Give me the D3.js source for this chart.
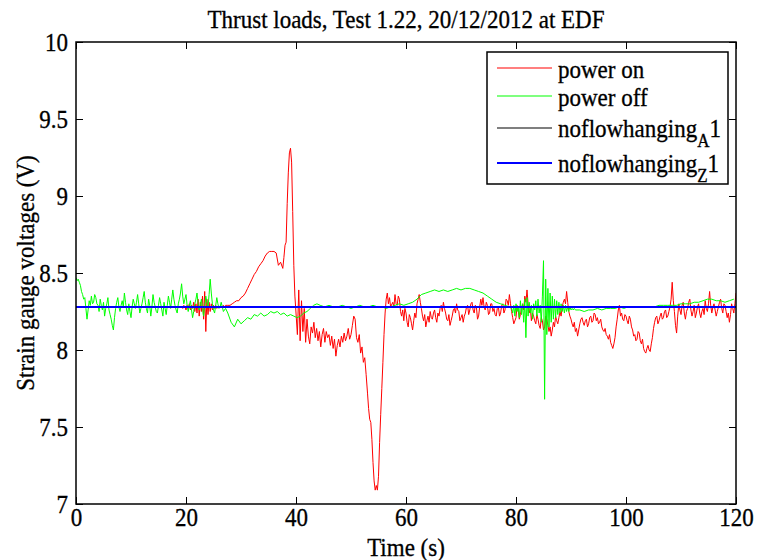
<!DOCTYPE html>
<html><head><meta charset="utf-8">
<script src="https://cdn.jsdelivr.net/npm/d3@7/dist/d3.min.js"></script>
<style>
body{margin:0;background:#fff}svg{display:block}
.mt{transform-box:fill-box;transform-origin:50% 50%;transform:scaleY(1.1)}
</style>
</head><body><svg id="c" width="758" height="560"></svg>
<script>
// ---------- data ----------
const titleText = "Thrust loads, Test 1.22, 20/12/2012 at EDF";
const xLabel = "Time (s)";
const yLabel = "Strain gauge voltages (V)";
const xDomain = [0, 120];
const yDomain = [7, 10];
const xTicks = [0, 20, 40, 60, 80, 100, 120];
const yTicks = [7, 7.5, 8, 8.5, 9, 9.5, 10];
const yTickLabels = ["7", "7.5", "8", "8.5", "9", "9.5", "10"];
const seriesNames = ["power on", "power off", "noflowhanging", "noflowhanging"];
const seriesSubs = ["", "", "A", "Z"];
const seriesColors = ["#ff0000", "#00ff00", "#000000", "#0000ff"];

// reference levels (constant lines) over the full time span
const refTimes = [0, 120];
const noflowA1 = [8.28, 8.28];
const noflowZ1 = [8.28, 8.28];

// "power off" (green), segments: [start time, time step, values]
const off1 = [0, 0.2, [
  8.47,8.45,8.46,8.44,8.42,8.38,8.36,8.33,8.34,8.27,8.20,8.26,8.32,8.29,8.35,8.30,8.31,8.36,8.34,8.30,
  8.29,8.25,8.33,8.29,8.26,8.31,8.22,8.27,8.30,8.34,8.26,8.23,8.20,8.16,8.13,8.21,8.27,8.31,8.34,8.28,
  8.25,8.29,8.32,8.28,8.37,8.31,8.26,8.23,8.30,8.25,8.21,8.28,8.33,8.30,8.27,8.31,8.36,8.30,8.24,8.27,
  8.30,8.34,8.38,8.31,8.27,8.24,8.33,8.29,8.22,8.28,8.36,8.31,8.28,8.25,8.24,8.29,8.34,8.30,8.26,8.22,
  8.31,8.27,8.23,8.29,8.35,8.31,8.27,8.33,8.39,8.33,8.29,8.26,8.24,8.30,8.33,8.37,8.43,8.35,8.30,8.33,
  8.36,8.29,8.25,8.29,8.32,8.26,8.21,8.25,8.30,8.33,8.37,8.30,8.26,8.29,8.33,8.27,8.22,8.28,8.35,8.31,
  8.28,8.36,8.46,8.37,8.30,8.26,8.24,8.29,8.34,8.30,8.27,8.28,8.31,8.28,8.25,8.26,8.27]];
const off2 = [27.6, 0.6, [8.24,8.18,8.15,8.20,8.17,8.19,8.21,8.20,8.23,8.22,
  8.24,8.22,8.23,8.25,8.24,8.25,8.23,8.24,8.22,8.23,
  8.22,8.21,8.22,8.24,8.25,8.27,8.29,8.30]];
const off3 = [44.4, 0.8, [8.29,8.28,8.29,8.28,8.28,8.29,8.28,8.27,8.28,8.29,
  8.28,8.28,8.29,8.28,8.28,8.27,8.28,8.29,8.30,8.29,
  8.30,8.31,8.33,8.36,8.37,8.38,8.39,8.38,8.39,8.38,
  8.39,8.40,8.39,8.40,8.40,8.39,8.38,8.37,8.35,8.33,
  8.31,8.30,8.29,8.28]];
const off4 = [79.2, 0.2, [8.27,8.24,8.29,8.22,8.30,8.25,8.28,8.21,8.32,8.23,
  8.30,8.18,8.33,8.08,8.34,8.22,8.31,8.24,8.29,8.20,
  8.30,8.26,8.32,8.22,8.33,8.24,8.29,8.18,8.35,8.58,
  7.68,8.46,8.10,8.40,8.15,8.37,8.18,8.35,8.20,8.33,
  8.21,8.32,8.23,8.31,8.24,8.30,8.25,8.29,8.24,8.29,
  8.25,8.28,8.25,8.28,8.26,8.27,8.26,8.27,8.26]];
const off5 = [91.6, 0.8, [8.26,8.25,8.26,8.26,8.27,8.26,8.27,8.27,8.27,8.28,
  8.27,8.28,8.28,8.28,8.28,8.28,8.28,8.28,8.29,8.29,
  8.29,8.29,8.29,8.30,8.30,8.30,8.31,8.31,8.32,8.33,
  8.33,8.32,8.32,8.31,8.32,8.33]];

// "power on" (red)
const on1 = [19.2, 0.2, [8.28,8.27,8.29,8.28,8.26,8.29,8.27,8.30,8.26,8.29,
  8.27,8.31,8.25,8.30,8.24,8.33,8.22,8.31,8.25,8.35,
  8.20,8.38,8.12,8.33,8.23,8.31,8.25,8.30,8.26,8.29,
  8.27,8.29,8.27,8.28,8.28,8.28,8.28,8.28,8.29,8.28,8.29]];
const on2 = [27.6, 0.4, [8.29,8.29,8.30,8.31,8.32,8.32,8.34,8.35,8.37,8.40,
  8.43,8.46,8.49,8.51,8.54,8.56,8.58,8.61,8.63,8.64,
  8.64,8.64,8.63,8.55,8.57,8.53]];
const on3 = [37.8, 0.2, [8.60,8.68,8.70,8.95,9.15,9.28,9.31,9.22,8.90,8.55,8.35,8.24]];
const on4 = [40.25, 0.25, [8.10,8.39,8.06,8.32,8.12,8.27,8.05,8.20,8.09,8.04,
  8.15,8.11,8.18,8.08,8.14,8.06,8.12,8.02,8.10,8.14,
  8.05,8.12,8.08,8.10,8.03,8.09,8.01,8.07,7.96,8.03,
  8.07,8.02,8.09,8.05,8.11,8.06,8.09,8.14,8.07,8.10,
  8.16,8.22,8.20,8.08,8.05,8.10,7.98,8.02,7.92,7.95,
  7.84,7.72]];
const on5 = [53.2, 0.2, [7.62,7.55,7.53,7.42,7.27,7.15,7.09,7.12,7.09,7.18,
  7.40,7.58,7.75,7.92,8.10,8.24,8.33,8.37,8.30,8.34,8.28]];
const on6 = [57.6, 0.2, [
  8.31,8.28,8.36,8.30,8.29,8.35,8.33,8.25,8.22,8.26,8.19,8.27,8.24,8.18,8.15,8.23,8.21,8.17,8.13,8.19,
  8.24,8.21,8.30,8.33,8.36,8.31,8.27,8.22,8.19,8.23,8.15,8.19,8.22,8.18,8.25,8.21,8.20,8.24,8.26,8.21,
  8.18,8.24,8.22,8.27,8.29,8.25,8.31,8.27,8.24,8.20,8.19,8.23,8.16,8.19,8.22,8.26,8.27,8.24,8.30,8.26,
  8.25,8.19,8.21,8.23,8.18,8.22,8.24,8.28,8.29,8.23,8.26,8.30,8.31,8.26,8.24,8.29,8.28,8.20,8.22,8.28,
  8.33,8.29,8.34,8.28,8.26,8.31,8.29,8.23,8.24,8.30,8.30,8.25,8.27,8.23,8.22,8.27,8.28,8.22,8.24,8.29,
  8.30,8.24,8.26,8.33,8.32,8.29,8.36,8.30,8.25,8.21,8.17]];
const on7 = [80.0, 0.2, [
  8.21,8.29,8.26,8.20,8.23,8.27,8.30,8.26,8.35,8.31,8.39,8.30,8.24,8.27,8.19,8.24,8.22,8.19,8.17,8.23,
  8.20,8.16,8.14,8.21,8.19,8.13,8.15,8.22,8.20,8.16,8.12,8.15,8.09,8.13,8.18,8.15,8.22,8.19,8.17,8.21,
  8.25,8.22,8.28,8.31,8.33,8.30,8.38,8.31,8.25,8.22,8.20,8.17,8.15,8.18,8.12,8.14,8.09,8.13,8.17,8.20,
  8.21,8.18,8.16,8.19,8.20,8.15,8.17,8.21,8.22,8.18,8.19,8.24,8.23,8.19,8.21,8.17,8.18,8.20,8.15,8.13,
  8.12,8.14,8.10,8.09,8.07,8.10,8.05,8.03,8.01,8.04,8.08,8.15,8.20,8.26,8.29,8.22,8.24,8.20,8.19,8.23,
  8.22,8.19,8.17,8.22,8.20,8.15,8.13,8.09,8.10,8.06,8.07,8.12,8.11,8.06,8.04,8.07,8.01,7.99,7.98,8.01,
  8.03,8.00,7.99,8.04,8.08,8.14,8.18,8.21,8.22,8.17,8.19,8.22,8.24,8.20,8.21,8.25,8.26,8.21,8.22,8.25,
  8.28,8.33,8.44,8.32,8.25,8.16,8.11,8.22,8.30,8.26,8.23,8.29,8.31,8.24,8.20,8.25,8.27,8.31,8.33,8.26,
  8.22,8.25,8.29,8.21,8.24,8.28,8.30,8.24,8.21,8.25,8.27,8.23,8.32,8.27,8.25,8.30,8.38,8.29,8.24,8.28,
  8.30,8.26,8.22,8.25,8.28,8.31,8.33,8.27,8.24,8.30,8.29,8.25,8.21,8.24,8.18,8.23,8.30,8.27,8.24,8.30,
  8.37]];

const powerOnSegments = [on1, on2, on3, on4, on5, on6, on7];
const powerOffSegments = [off1, off2, off3, off4, off5];

// ---------- build ----------
function expand(segs) {
  const out = [];
  segs.forEach(([t0, dt, vals]) => vals.forEach((v, i) => out.push({t: t0 + i * dt, v})));
  return out;
}
const powerOn = expand(powerOnSegments);
const powerOff = expand(powerOffSegments);
const lineA = refTimes.map((t, i) => ({t, v: noflowA1[i]}));
const lineZ = refTimes.map((t, i) => ({t, v: noflowZ1[i]}));

const W = 758, H = 560;
const m = {left: 76, right: 22, top: 42, bottom: 56};
const pw = W - m.left - m.right, ph = H - m.top - m.bottom;
const FONT = "'Liberation Serif','Times New Roman',serif";

const svg = d3.select("#c");
const x = d3.scaleLinear().domain(xDomain).range([m.left, m.left + pw]);
const y = d3.scaleLinear().domain(yDomain).range([m.top + ph, m.top]);

svg.append("rect").attr("width", W).attr("height", H).attr("fill", "#fff");

svg.append("clipPath").attr("id", "pc").append("rect")
  .attr("x", m.left).attr("y", m.top).attr("width", pw).attr("height", ph);

const line = d3.line().x(d => x(d.t)).y(d => y(d.v));
const plot = svg.append("g").attr("clip-path", "url(#pc)");
plot.append("path").datum(powerOn).attr("d", line).attr("fill", "none")
  .attr("stroke", seriesColors[0]).attr("stroke-width", 1);
plot.append("path").datum(powerOff).attr("d", line).attr("fill", "none")
  .attr("stroke", seriesColors[1]).attr("stroke-width", 1);
plot.append("path").datum(lineA).attr("d", line).attr("fill", "none")
  .attr("stroke", seriesColors[2]).attr("stroke-width", 1);
plot.append("path").datum(lineZ).attr("d", line).attr("fill", "none")
  .attr("stroke", seriesColors[3]).attr("stroke-width", 2);

// text look: Times, slightly tall and heavy like the MATLAB export
function tstyle(sel) {
  sel.attr("font-family", FONT).attr("font-size", 23).attr("fill", "#000")
    .attr("stroke", "#000").attr("stroke-width", 0.3);
}

// axes (inward ticks on all sides, MATLAB style)
function styleAxis(g) {
  g.select(".domain").remove();
  g.selectAll(".tick line").attr("stroke", "#000").attr("stroke-width", 1);
  g.selectAll("text").call(tstyle).classed("mt", true);
}
svg.append("g").attr("transform", `translate(0,${m.top + ph})`)
  .call(d3.axisBottom(x).tickValues(xTicks).tickSize(-7).tickPadding(5).tickFormat(d3.format("d")))
  .call(styleAxis);
svg.append("g").attr("transform", `translate(0,${m.top})`)
  .call(d3.axisTop(x).tickValues(xTicks).tickSize(-7).tickFormat(""))
  .call(styleAxis);
svg.append("g").attr("transform", `translate(${m.left},0)`)
  .call(d3.axisLeft(y).tickValues(yTicks).tickSize(-7).tickPadding(8)
    .tickFormat((d, i) => yTickLabels[i]))
  .call(styleAxis);
svg.append("g").attr("transform", `translate(${m.left + pw},0)`)
  .call(d3.axisRight(y).tickValues(yTicks).tickSize(-7).tickFormat(""))
  .call(styleAxis);

svg.append("rect").attr("x", m.left).attr("y", m.top).attr("width", pw).attr("height", ph)
  .attr("fill", "none").attr("stroke", "#000").attr("stroke-width", 1.5);

// titles
svg.append("text").attr("x", m.left + pw / 2).attr("y", 27).attr("text-anchor", "middle")
  .call(tstyle).classed("mt", true).text(titleText);
svg.append("text").attr("x", m.left + pw / 2).attr("y", 555).attr("text-anchor", "middle")
  .call(tstyle).classed("mt", true).text(xLabel);
svg.append("text").attr("transform", `translate(34,${m.top + ph / 2}) rotate(-90) scale(1,1.1)`)
  .attr("text-anchor", "middle").call(tstyle).text(yLabel);

// legend
const lg = svg.append("g");
lg.append("rect").attr("x", 487).attr("y", 52).attr("width", 241).attr("height", 132)
  .attr("fill", "#fff").attr("stroke", "#000").attr("stroke-width", 1.5);
const rowsY = [68, 96, 128, 163];
seriesNames.forEach((name, i) => {
  lg.append("line").attr("x1", 497).attr("x2", 552).attr("y1", rowsY[i]).attr("y2", rowsY[i])
    .attr("stroke", seriesColors[i]).attr("stroke-width", i === 3 ? 2 : 1.2);
  const t = lg.append("text").attr("x", 558).attr("y", rowsY[i] + 9).call(tstyle).classed("mt", true);
  t.append("tspan").text(name);
  if (seriesSubs[i]) {
    t.append("tspan").attr("dy", 9).attr("font-size", 17).text(seriesSubs[i]);
    t.append("tspan").attr("dy", -9).text("1");
  }
});
</script>
</body></html>
